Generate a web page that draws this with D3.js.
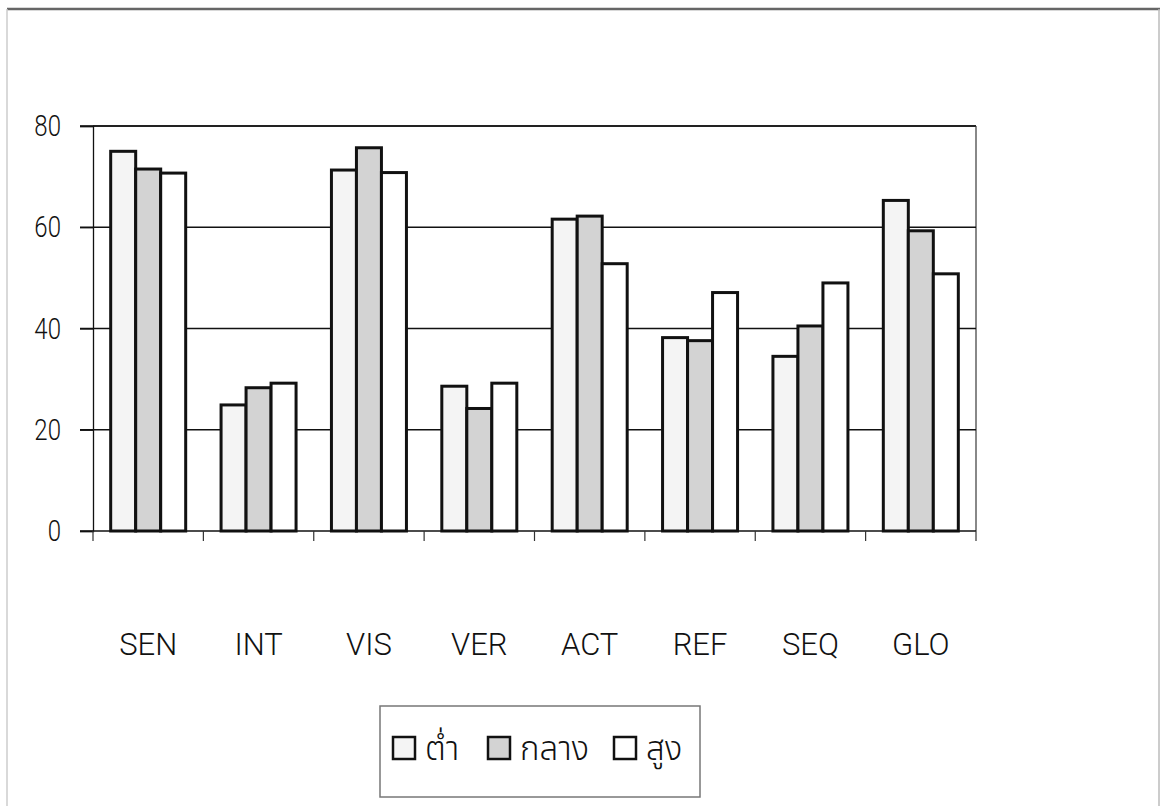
<!DOCTYPE html>
<html>
<head>
<meta charset="utf-8">
<script src="https://cdn.jsdelivr.net/npm/d3@7"></script>
<style>
  html, body { margin: 0; padding: 0; background: #fff; }
  svg { display: block; }
  text { font-family: Roboto, "Noto Sans Thai", "Noto Sans", sans-serif; font-weight: 300; fill: #111; }
  .thai { font-family: "Noto Sans Thai", "Noto Sans", sans-serif; font-weight: 300; }
</style>
</head>
<body>
<svg id="chart" width="1162" height="806"></svg>
<script>
// Learning-style dimensions and the three groups (low / medium / high)
const categories = ["SEN", "INT", "VIS", "VER", "ACT", "REF", "SEQ", "GLO"];
const seriesNames = ["ต่ำ", "กลาง", "สูง"];
const lowValues    = [75.0, 24.9, 71.3, 28.6, 61.6, 38.2, 34.5, 65.3];
const mediumValues = [71.5, 28.3, 75.7, 24.2, 62.2, 37.6, 40.5, 59.3];
const highValues   = [70.7, 29.2, 70.8, 29.2, 52.8, 47.1, 49.0, 50.8];
const yTicks = [0, 20, 40, 60, 80];
const seriesFills = ["#f4f4f4", "#d3d3d3", "#ffffff"];

const allSeries = [lowValues, mediumValues, highValues];

const svg = d3.select("#chart");

// outer frame
svg.append("line").attr("x1", 7).attr("x2", 1160).attr("y1", 9).attr("y2", 9)
  .attr("stroke", "#666").attr("stroke-width", 2.5);
svg.append("line").attr("x1", 7).attr("x2", 7).attr("y1", 9).attr("y2", 806)
  .attr("stroke", "#ccc").attr("stroke-width", 1.5);
svg.append("line").attr("x1", 1159).attr("x2", 1159).attr("y1", 9).attr("y2", 806)
  .attr("stroke", "#bbb").attr("stroke-width", 1.5);

const plot = { left: 93, right: 976, top: 126, bottom: 531 };

const x = d3.scaleBand().domain(categories).range([plot.left, plot.right]).padding(0);
const groupWidth = 75;
const x1 = d3.scaleBand().domain(d3.range(3))
  .range([(x.bandwidth() - groupWidth) / 2, (x.bandwidth() + groupWidth) / 2]).padding(0);
const y = d3.scaleLinear().domain([0, 80]).range([plot.bottom, plot.top]);

// plot area outline (top and right)
svg.append("line").attr("x1", plot.left).attr("x2", plot.right).attr("y1", plot.top).attr("y2", plot.top)
  .attr("stroke", "#222").attr("stroke-width", 1.5);
svg.append("line").attr("x1", plot.right).attr("x2", plot.right).attr("y1", plot.top).attr("y2", plot.bottom)
  .attr("stroke", "#888").attr("stroke-width", 2);

// horizontal gridlines with small left ticks
svg.append("g").selectAll("line").data(yTicks.filter(d => d > 0)).join("line")
  .attr("x1", plot.left - 13).attr("x2", plot.right)
  .attr("y1", d => y(d)).attr("y2", d => y(d))
  .attr("stroke", "#111").attr("stroke-width", 1.3);

// y axis (labels drawn narrow, right-aligned)
const yAxis = d3.axisLeft(y).tickValues(yTicks).tickSize(13).tickFormat("");
const gy = svg.append("g").attr("transform", `translate(${plot.left},0)`).call(yAxis);
gy.select(".domain").attr("stroke", "#111").attr("stroke-width", 1.3);
gy.selectAll(".tick line").attr("stroke", "#111").attr("stroke-width", 1.3);
svg.append("g").selectAll("text").data(yTicks).join("text")
  .attr("transform", d => `translate(61,${y(d) + 10}) scale(0.8,1)`)
  .attr("text-anchor", "end")
  .attr("font-size", 30)
  .text(d => d);

// bars
const groups = svg.append("g").selectAll("g").data(categories).join("g")
  .attr("transform", d => `translate(${x(d)},0)`);
groups.selectAll("rect")
  .data((c, i) => allSeries.map((s, k) => ({ k, v: s[i] })))
  .join("rect")
  .attr("x", d => x1(d.k))
  .attr("width", x1.bandwidth())
  .attr("y", d => y(d.v))
  .attr("height", d => y(0) - y(d.v))
  .attr("fill", d => seriesFills[d.k])
  .attr("stroke", "#111").attr("stroke-width", 3);

// x axis with ticks between categories
const boundaries = categories.map(c => x(c)).concat([plot.right]);
svg.append("line").attr("x1", plot.left - 13).attr("x2", plot.right)
  .attr("y1", plot.bottom).attr("y2", plot.bottom).attr("stroke", "#111").attr("stroke-width", 1.5);
svg.append("g").selectAll("line").data(boundaries).join("line")
  .attr("x1", d => d).attr("x2", d => d)
  .attr("y1", plot.bottom).attr("y2", plot.bottom + 10)
  .attr("stroke", "#333").attr("stroke-width", 1.2);
svg.append("g").selectAll("text").data(categories).join("text")
  .attr("x", d => x(d) + x.bandwidth() / 2)
  .attr("y", 655)
  .attr("text-anchor", "middle")
  .attr("font-size", 31)
  .text(d => d);

// legend
const legend = svg.append("g");
legend.append("rect").attr("x", 380).attr("y", 706).attr("width", 320).attr("height", 91)
  .attr("fill", "#fff").attr("stroke", "#777").attr("stroke-width", 1.5);
const legendX = [393, 488, 614];
seriesNames.forEach((name, k) => {
  legend.append("rect").attr("x", legendX[k]).attr("y", 737).attr("width", 22).attr("height", 22)
    .attr("fill", seriesFills[k]).attr("stroke", "#111").attr("stroke-width", 2.5);
  legend.append("text").attr("class", "thai").attr("x", legendX[k] + 32).attr("y", 760)
    .attr("font-size", 33).text(name);
});
</script>
</body>
</html>
